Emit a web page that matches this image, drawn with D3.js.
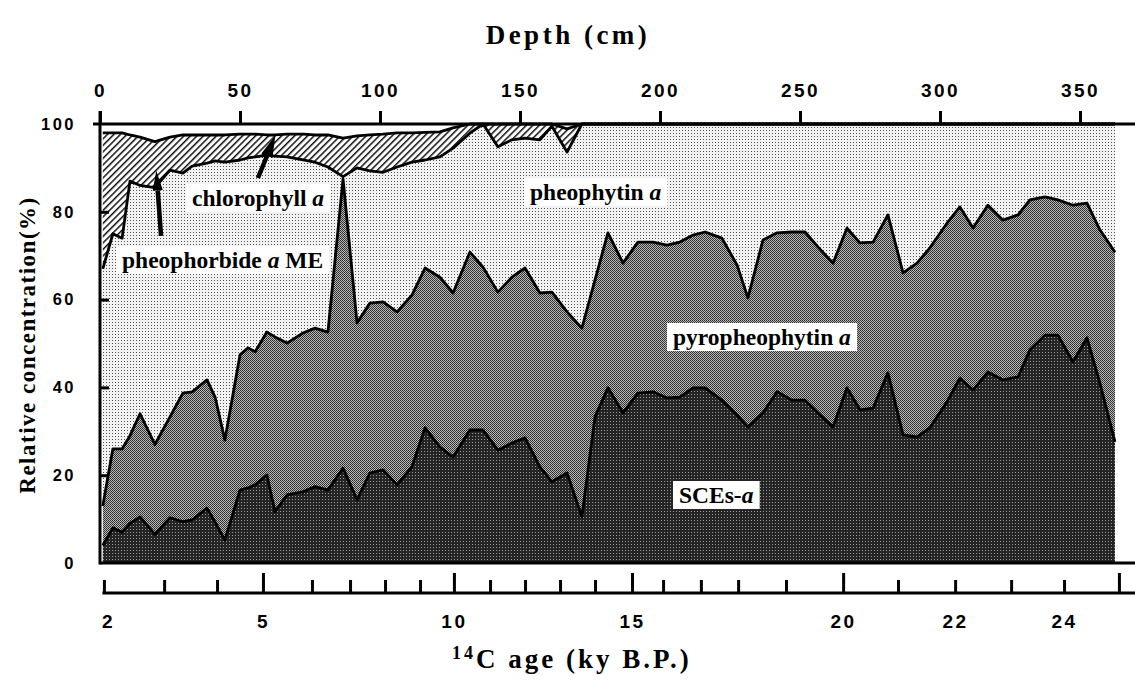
<!DOCTYPE html>
<html><head><meta charset="utf-8">
<script src="https://cdn.jsdelivr.net/npm/d3@7"></script>
<style>body{margin:0;background:#fff}svg{display:block}</style>
</head><body>
<svg id="chart" width="1135" height="691"></svg>
<script>
// ---- data ----
const depths = [1, 4.6, 7.9, 10.7, 14.3, 19.6, 25, 29.6, 32.9, 38.2, 41.1, 44.6, 50, 52.9, 55.4, 59.6, 62.5, 66.8, 72.5, 76.8, 81.4, 86.8, 91.8, 96.4, 101.1, 106.1, 111.4, 116.1, 121.4, 126.1, 132.1, 136.8, 142.1, 147.1, 151.8, 157.1, 161.4, 166.8, 172.1, 176.8, 181.4, 186.8, 192.1, 197.5, 202.5, 207.1, 211.8, 216.1, 222.1, 227.5, 231.4, 236.8, 241.8, 247.1, 251.8, 256.4, 261.8, 266.8, 271.4, 276.1, 281.4, 286.8, 291.8, 296.4, 302.5, 307.1, 311.8, 317.1, 322.5, 327.9, 332.1, 337.5, 342.1, 347.5, 352.5, 357.1, 362.5];
const scesA = [4, 8, 7, 9, 10.5, 6.5, 10.3, 9.4, 9.8, 12.5, 9.3, 5.2, 16.6, 17.1, 17.8, 20, 11.7, 15.5, 16.2, 17.4, 16.6, 21.6, 14.4, 20.5, 21.2, 17.8, 21.9, 30.8, 26.4, 24.1, 30.3, 30.3, 25.7, 27.3, 28.5, 21.9, 18.5, 20.5, 10.5, 33.3, 39.9, 34.2, 38.7, 39, 37.6, 37.8, 39.9, 39.9, 37.1, 33.7, 31, 34.2, 39, 37.1, 37.1, 34.2, 31, 39.9, 34.9, 35.3, 43.3, 29.2, 28.7, 30.8, 36.7, 42.1, 39.4, 43.5, 41.7, 42.4, 48.5, 51.9, 51.9, 45.8, 51.3, 41, 27.6];
const pyropheophytinA = [9, 18, 19, 20, 23.5, 20.5, 23, 29.3, 29.2, 29.2, 28.5, 22.8, 30.8, 31.9, 30.3, 32.6, 39.8, 34.6, 36.2, 36.1, 36, 65.9, 40.3, 38.7, 38.3, 39.4, 39.1, 36.4, 38.7, 37.4, 40.5, 37.1, 36, 37.8, 38.7, 39.6, 43.2, 36.7, 43, 31.2, 35.3, 34.1, 34.4, 34.1, 34.8, 35.3, 34.8, 35.5, 36.9, 34.2, 29.4, 39.4, 36.2, 38.3, 38.3, 37.8, 37.3, 36.4, 38, 37.8, 36, 36.9, 39.6, 41, 40.7, 39, 36.9, 38, 36.4, 36.9, 34.2, 31.5, 30.8, 35.7, 30.7, 34.9, 43.2];
const pheophytinA = [54, 49, 48, 58, 52, 58.5, 56.2, 50.1, 51.4, 49.4, 53.8, 63.3, 44.4, 43.3, 44.4, 40.3, 41.2, 42.4, 39.4, 37.8, 37.6, 0.5, 35.3, 30.1, 29.5, 33, 30.3, 24.6, 27.4, 33, 27.1, 32.6, 33.1, 31.3, 29.6, 34.9, 37.8, 36.4, 46.5, 35.5, 24.8, 31.7, 26.9, 26.9, 27.6, 26.9, 25.3, 24.6, 26, 32.1, 39.6, 26.4, 24.8, 24.6, 24.6, 28, 31.7, 23.7, 27.1, 26.9, 20.7, 33.9, 31.7, 28.2, 22.6, 18.9, 23.7, 18.5, 21.9, 20.7, 17.3, 16.6, 17.3, 18.5, 18, 24.1, 29.2];
const pheophorbideAME = [31, 23, 24, 10.5, 11, 10.5, 7.5, 8.7, 7.1, 6.4, 5.9, 6.2, 5.9, 5.4, 5.2, 4.6, 4.8, 5.2, 5.9, 6.2, 7.3, 8.8, 7.3, 8.2, 8.7, 7.8, 6.7, 6.3, 5.7, 4.6, 2.1, 0, 5.2, 3.6, 3.2, 3.6, 0.5, 5.3, 0, 0, 0, 0, 0, 0, 0, 0, 0, 0, 0, 0, 0, 0, 0, 0, 0, 0, 0, 0, 0, 0, 0, 0, 0, 0, 0, 0, 0, 0, 0, 0, 0, 0, 0, 0, 0, 0, 0];
const chlorophyllA = [2, 2, 2, 2.5, 3, 4, 3, 2.5, 2.5, 2.5, 2.5, 2.5, 2.3, 2.3, 2.3, 2.5, 2.5, 2.3, 2.3, 2.5, 2.5, 3.2, 2.7, 2.5, 2.3, 2, 2, 1.9, 1.8, 0.9, 0, 0, 0, 0, 0, 0, 0, 1.1, 0, 0, 0, 0, 0, 0, 0, 0, 0, 0, 0, 0, 0, 0, 0, 0, 0, 0, 0, 0, 0, 0, 0, 0, 0, 0, 0, 0, 0, 0, 0, 0, 0, 0, 0, 0, 0, 0, 0];
const depthTicks = [0, 50, 100, 150, 200, 250, 300, 350];
const yTicks = [20, 40, 60, 80];
const yLabels = [0, 20, 40, 60, 80, 100];
const ageTicks = [2, 3, 4, 5, 6, 7, 8, 9, 10, 11, 12, 13, 14, 15, 16, 17, 18, 19, 20, 21, 22, 23, 24, 25];
const ageTickDepths = [1.4, 22.9, 41.8, 58.2, 75.7, 89.3, 101.8, 114.3, 126.4, 139.3, 151.8, 164.3, 176.8, 190, 201.1, 214.6, 227.9, 245, 265.4, 285, 305.4, 325.4, 344.3, 363.9];
const ageLabels = [2, 5, 10, 15, 20, 22, 24];
const ageMajor = [5, 10, 15, 20, 25];

// ---- chart ----
const svg = d3.select('#chart');
const x = d3.scaleLinear().domain([0, 350]).range([100, 1080]);
const y = d3.scaleLinear().domain([0, 100]).range([563, 124]);
const ageScale = d3.scaleLinear().domain(ageTicks).range(ageTickDepths.map(d => x(d)));

const defs = svg.append('defs');
function pat(id, w, h, bg, dots) {
  const p = defs.append('pattern').attr('id', id).attr('patternUnits', 'userSpaceOnUse')
    .attr('width', w).attr('height', h);
  p.append('rect').attr('width', w).attr('height', h).attr('fill', bg);
  dots.forEach(([dx, dy, c]) => p.append('rect').attr('x', dx).attr('y', dy).attr('width', 1).attr('height', 1).attr('fill', c));
  return p;
}
pat('patSCE', 3, 3, '#242424', [[1, 1, '#9a9a9a']]);
pat('patPyro', 2, 2, '#b8b8b8', [[0, 0, '#2a2a2a'], [1, 1, '#3a3a3a']]);
pat('patPheo', 3, 3, '#f2f2f2', [[1, 1, '#555']]);
const hp = defs.append('pattern').attr('id', 'patHatch').attr('patternUnits', 'userSpaceOnUse')
  .attr('width', 4.6).attr('height', 4.6).attr('patternTransform', 'rotate(45)');
hp.append('rect').attr('width', 4.6).attr('height', 4.6).attr('fill', '#fff');
hp.append('rect').attr('width', 1.5).attr('height', 4.6).attr('fill', '#111');

const keys = ['sces', 'pyro', 'pheo', 'pheoME', 'chl'];
const rows = depths.map((d, i) => ({
  depth: d, sces: scesA[i], pyro: pyropheophytinA[i], pheo: pheophytinA[i],
  pheoME: pheophorbideAME[i], chl: chlorophyllA[i]
}));
const series = d3.stack().keys(keys)(rows);
const fills = { sces: 'url(#patSCE)', pyro: 'url(#patPyro)', pheo: 'url(#patPheo)', pheoME: 'url(#patHatch)', chl: '#fff' };
const area = d3.area().x(d => x(d.data.depth)).y0(d => y(d[0])).y1(d => y(d[1]));
svg.append('g').selectAll('path').data(series).join('path')
  .attr('d', area).attr('fill', s => fills[s.key]);
const line = d3.line().x(d => x(d.data.depth)).y(d => y(d[1]));
svg.append('g').selectAll('path').data(series.slice(0, 4)).join('path')
  .attr('d', line).attr('fill', 'none').attr('stroke', '#000')
  .attr('stroke-width', 2.8).attr('stroke-linejoin', 'round');

// frame lines
const frame = svg.append('g').attr('stroke', '#000').attr('stroke-width', 3);
frame.append('line').attr('x1', 93).attr('x2', 1135).attr('y1', y(100)).attr('y2', y(100));
frame.append('line').attr('x1', x(0)).attr('x2', x(0)).attr('y1', y(100) - 13).attr('y2', y(0) + 1.5);
frame.append('line').attr('x1', x(0)).attr('x2', 1135).attr('y1', y(0)).attr('y2', y(0));

const tickFont = g => g.selectAll('text').attr('font-family', '"Liberation Sans", Arial, sans-serif')
  .attr('font-weight', 'bold').attr('font-size', 19).attr('letter-spacing', 2.5).attr('fill', '#000');

// top depth axis
const gTop = svg.append('g').attr('transform', `translate(0,${y(100)})`)
  .call(d3.axisTop(x).tickValues(depthTicks).tickSize(13).tickPadding(14).tickFormat(d3.format('d')));
gTop.select('.domain').remove();
gTop.selectAll('.tick line').attr('stroke', '#000').attr('stroke-width', 3);
tickFont(gTop);

// left y axis (ticks inward)
const gY = svg.append('g').attr('transform', `translate(${x(0)},0)`)
  .call(d3.axisLeft(y).tickValues(yLabels).tickSizeInner(-9).tickSizeOuter(0).tickPadding(24).tickFormat(d3.format('d')));
gY.select('.domain').remove();
gY.selectAll('.tick line').attr('stroke', '#000').attr('stroke-width', 3)
  .attr('display', d => yTicks.includes(d) ? null : 'none');
tickFont(gY);
gY.selectAll('text').attr('font-size', 16.5).attr('letter-spacing', 2.5);

// bottom age axis
const ageY = 593;
const gAge = svg.append('g').attr('transform', `translate(0,${ageY})`)
  .call(d3.axisBottom(ageScale).tickValues(ageTicks).tickSizeInner(-13).tickSizeOuter(0).tickPadding(22)
    .tickFormat(d => ageLabels.includes(d) ? d : ''));
gAge.select('.domain').remove();
gAge.selectAll('.tick line').attr('stroke', '#000').attr('stroke-width', 3)
  .attr('y2', d => ageMajor.includes(d) ? -20 : -13);
tickFont(gAge);
gAge.selectAll('.tick text').attr('dx', d => d === 2 ? 4 : 0);
svg.append('line').attr('x1', ageScale(2) - 1.5).attr('x2', 1135).attr('y1', ageY).attr('y2', ageY)
  .attr('stroke', '#000').attr('stroke-width', 3);

// titles
const serif = '"Liberation Serif", "Times New Roman", serif';
svg.append('text').attr('x', 568).attr('y', 44).attr('text-anchor', 'middle')
  .attr('font-family', serif).attr('font-weight', 'bold').attr('font-size', 27).attr('letter-spacing', 3.5)
  .text('Depth (cm)');
const bt = svg.append('text').attr('x', 572).attr('y', 668).attr('text-anchor', 'middle')
  .attr('font-family', serif).attr('font-weight', 'bold').attr('font-size', 27).attr('letter-spacing', 3);
bt.append('tspan').attr('font-size', 18).attr('dy', -9).text('14');
bt.append('tspan').attr('dy', 9).text('C age (ky B.P.)');
svg.append('text').attr('transform', 'translate(35,345) rotate(-90)').attr('text-anchor', 'middle')
  .attr('font-family', serif).attr('font-weight', 'bold').attr('font-size', 23).attr('letter-spacing', 1.5)
  .text('Relative concentration(%)');

// arrows (annotation, in data coordinates)
function arrow(d0, v0, d1, v1, len, wid) {
  const x0 = x(d0), y0 = y(v0), x1 = x(d1), y1 = y(v1);
  const dx = x1 - x0, dy = y1 - y0, L = Math.hypot(dx, dy), ux = dx / L, uy = dy / L;
  const bx = x1 - ux * len, by = y1 - uy * len;
  svg.append('line').attr('x1', x0).attr('y1', y0).attr('x2', bx).attr('y2', by)
    .attr('stroke', '#000').attr('stroke-width', 4.5);
  svg.append('path').attr('d', `M${x1},${y1}L${bx - uy * wid / 2},${by + ux * wid / 2}L${bx + uy * wid / 2},${by - ux * wid / 2}Z`)
    .attr('fill', '#000');
}
arrow(56.4, 87.7, 62.6, 97.4, 22, 12);
arrow(21.8, 74.5, 20.1, 89.4, 20, 10);

// labels with white boxes
function label(parts, lx, ly) {
  const g = svg.append('g');
  const r = g.append('rect').attr('fill', '#fff');
  const t = g.append('text').attr('x', lx).attr('y', ly).attr('font-family', serif)
    .attr('font-weight', 'bold').attr('font-size', 23.5).attr('fill', '#000');
  parts.forEach(([s, it]) => t.append('tspan').attr('font-style', it ? 'italic' : null).text(s));
  const b = t.node().getBBox();
  r.attr('x', b.x - 6).attr('y', b.y - 1).attr('width', b.width + 12).attr('height', b.height + 2);
}
label([['chlorophyll '], ['a', 1]], 192, 206);
label([['pheophorbide '], ['a', 1], [' ME']], 122, 268);
label([['pheophytin '], ['a', 1]], 530, 200);
label([['pyropheophytin '], ['a', 1]], 673, 345);
label([['SCEs-'], ['a', 1]], 679, 503);
</script>
</body></html>
